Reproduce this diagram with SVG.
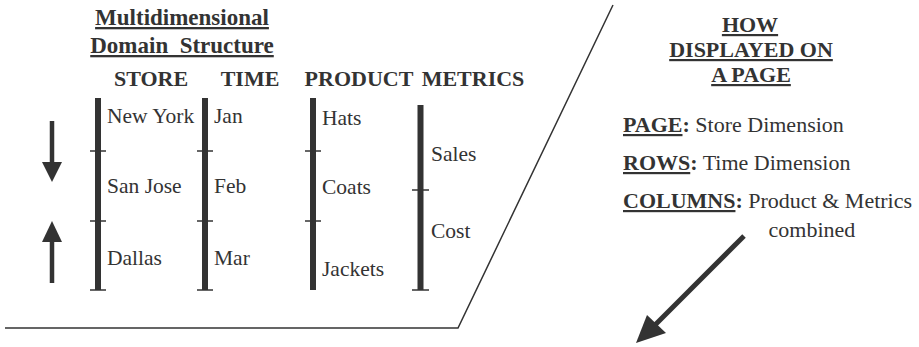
<svg xmlns="http://www.w3.org/2000/svg" width="919" height="347" viewBox="0 0 919 347">
<defs>
<style>
text{font-family:'Liberation Serif','Times New Roman','DejaVu Serif',serif;fill:#333}
.t{font-weight:bold;font-size:23px}
.h{font-weight:bold;font-size:22px}
.hr{font-weight:bold;font-size:22px}
.it{font-size:21.5px}
.rt{font-size:22px}
.u{text-decoration:underline}
.bar{stroke:#333;stroke-width:6;fill:none}
.tick{stroke:#333;stroke-width:1.5;fill:none}
.ln{stroke:#333;stroke-width:1.5;fill:none}
</style>
</defs>
<rect width="919" height="347" fill="#fff"/>
<g id="title">
<text class="t u" x="182" y="25" text-anchor="middle">Multidimensional</text>
<text class="t u" x="182" y="53" text-anchor="middle" xml:space="preserve">Domain  Structure</text>
</g>
<g id="store">
<text class="h" x="151" y="86" text-anchor="middle">STORE</text>
<line class="bar" x1="98" y1="98" x2="98" y2="290"/>
<line class="tick" x1="90" y1="151" x2="106" y2="151"/>
<line class="tick" x1="90" y1="221" x2="106" y2="221"/>
<line class="tick" x1="90" y1="290" x2="106" y2="290"/>
<text class="it" x="107" y="123">New York</text>
<text class="it" x="107" y="193">San Jose</text>
<text class="it" x="107" y="265">Dallas</text>
</g>
<g id="time">
<text class="h" x="250" y="86" text-anchor="middle">TIME</text>
<line class="bar" x1="205" y1="98" x2="205" y2="290"/>
<line class="tick" x1="197" y1="151" x2="213" y2="151"/>
<line class="tick" x1="197" y1="221" x2="213" y2="221"/>
<line class="tick" x1="197" y1="290" x2="213" y2="290"/>
<text class="it" x="214" y="123">Jan</text>
<text class="it" x="214" y="193">Feb</text>
<text class="it" x="214" y="265">Mar</text>
</g>
<g id="product">
<text class="h" x="359" y="86" text-anchor="middle">PRODUCT</text>
<line class="bar" x1="313" y1="98" x2="313" y2="290"/>
<line class="tick" x1="305" y1="151" x2="321" y2="151"/>
<line class="tick" x1="305" y1="221" x2="321" y2="221"/>
<text class="it" x="322" y="125">Hats</text>
<text class="it" x="322" y="194">Coats</text>
<text class="it" x="322" y="276">Jackets</text>
</g>
<g id="metrics">
<text class="h" x="473" y="86" text-anchor="middle">METRICS</text>
<line class="bar" x1="420.5" y1="105" x2="420.5" y2="290"/>
<line class="tick" x1="412" y1="190" x2="429" y2="190"/>
<line class="tick" x1="412" y1="290" x2="429" y2="290"/>
<text class="it" x="431" y="161">Sales</text>
<text class="it" x="431" y="238">Cost</text>
</g>
<g id="how">
<text class="hr u" x="750" y="32" text-anchor="middle">HOW</text>
<text class="hr u" x="751" y="57" text-anchor="middle">DISPLAYED ON</text>
<text class="hr u" x="751" y="82" text-anchor="middle">A PAGE</text>
<text class="rt" x="623" y="132"><tspan font-weight="bold" text-decoration="underline">PAGE</tspan><tspan font-weight="bold">:</tspan> Store Dimension</text>
<text class="rt" x="623" y="170"><tspan font-weight="bold" text-decoration="underline">ROWS</tspan><tspan font-weight="bold">:</tspan> Time Dimension</text>
<text class="rt" x="623" y="208"><tspan font-weight="bold" text-decoration="underline">COLUMNS</tspan><tspan font-weight="bold">:</tspan> Product &amp; Metrics</text>
<text class="rt" x="812" y="237" text-anchor="middle">combined</text>
</g>
<g id="connectors">
<polyline class="ln" points="5,328 458,328 613,5"/>
<line x1="52" y1="121" x2="52" y2="165" stroke="#333" stroke-width="4.5"/>
<polygon points="42,162 62,162 52,182" fill="#333"/>
<line x1="52" y1="283" x2="52" y2="239" stroke="#333" stroke-width="4.5"/>
<polygon points="42,242 62,242 52,221" fill="#333"/>
<line x1="744" y1="236" x2="654" y2="326" stroke="#333" stroke-width="5"/>
<polygon points="636,343 647,315 666,333" fill="#333"/>
</g>
</svg>
